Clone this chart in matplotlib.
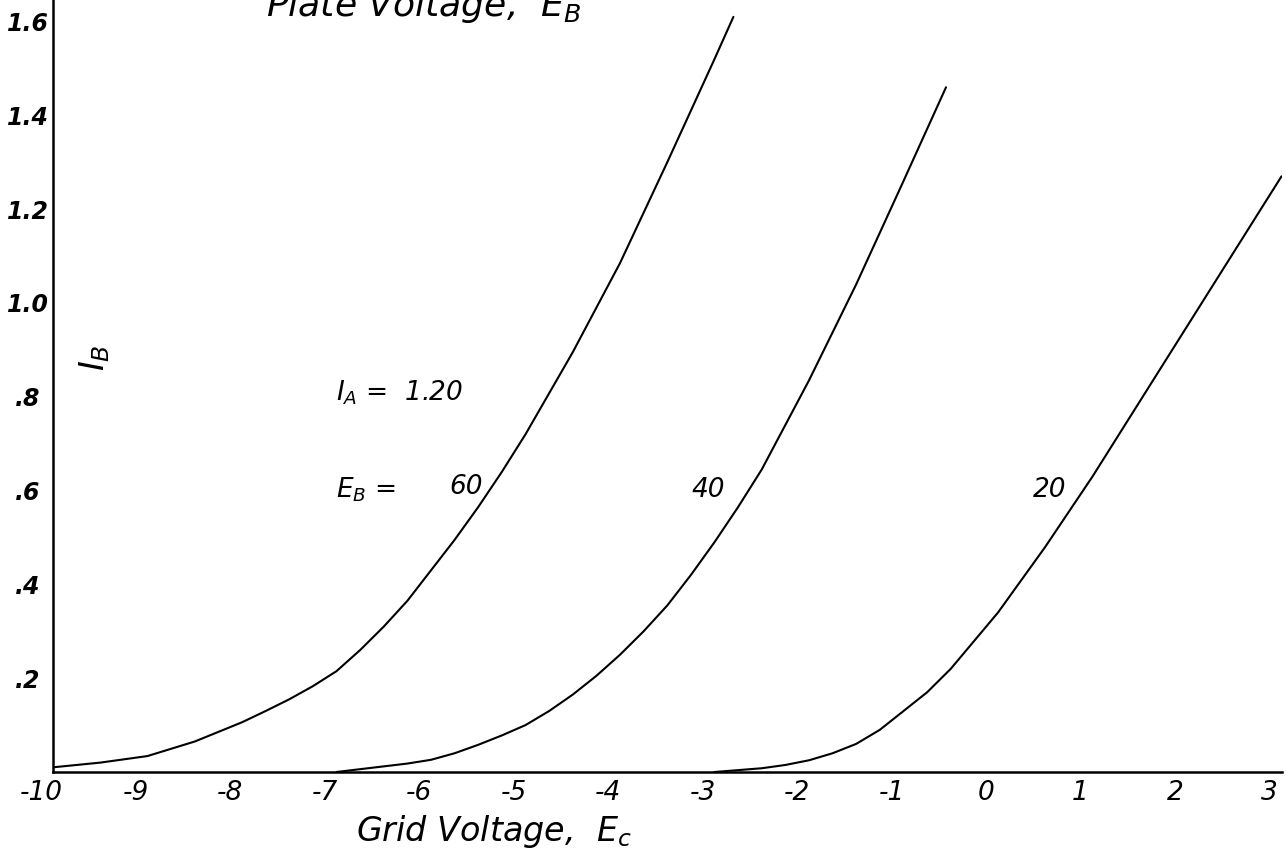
import numpy as np
import matplotlib
matplotlib.use("Agg")
import matplotlib.pyplot as plt
import matplotlib.transforms as mtransforms

# plate current I_B vs grid voltage E_c (I_A = 1.20)
ec_60 = [-10, -9.5, -9, -8.5, -8, -7.75, -7.5, -7.25, -7, -6.75, -6.5, -6.25, -6, -5.75, -5.5,
         -5.25, -5, -4.5, -4, -3.5, -3, -2.8]
ib_60 = [0.01, 0.02, 0.034, 0.065, 0.106, 0.13, 0.155, 0.183, 0.215, 0.26, 0.31, 0.365, 0.43,
         0.495, 0.565, 0.64, 0.72, 0.895, 1.085, 1.30, 1.52, 1.61]

ec_40 = [-7, -6.5, -6.25, -6, -5.75, -5.5, -5.25, -5, -4.75, -4.5, -4.25, -4, -3.75, -3.5,
         -3.25, -3, -2.75, -2.5, -2, -1.5, -1, -0.55]
ib_40 = [0.0, 0.012, 0.018, 0.026, 0.04, 0.058, 0.078, 0.10, 0.13, 0.165, 0.205, 0.25, 0.30,
         0.355, 0.42, 0.49, 0.565, 0.645, 0.835, 1.04, 1.26, 1.46]

ec_20 = [-3, -2.5, -2.25, -2, -1.75, -1.5, -1.25, -1, -0.75, -0.5, -0.25, 0, 0.5, 1, 1.5,
         2, 2.5, 3]
ib_20 = [0.0, 0.008, 0.015, 0.025, 0.04, 0.06, 0.09, 0.13, 0.17, 0.22, 0.28, 0.34, 0.48,
         0.63, 0.79, 0.95, 1.11, 1.27]

x_ticks = [-10, -9, -8, -7, -6, -5, -4, -3, -2, -1, 0, 1, 2, 3]
x_labels = ["-10", "-9", "-8", "-7", "-6", "-5", "-4", "-3", "-2", "-1", "0", "1", "2", "3"]
y_ticks = [0.2, 0.4, 0.6, 0.8, 1.0, 1.2, 1.4, 1.6]
y_labels = [".2", ".4", ".6", ".8", "1.0", "1.2", "1.4", "1.6"]

W, H = 1286, 867
fig = plt.figure(figsize=(W / 100, H / 100), dpi=100)
ax = fig.add_axes([53 / W, 95 / H, (1281.5 - 53) / W, 772 / H])

for ec, ib in ((ec_60, ib_60), (ec_40, ib_40), (ec_20, ib_20)):
    ax.plot(ec, ib, color="black", lw=1.5, solid_capstyle="round", solid_joinstyle="round")

ax.set_xlim(-10, 3)
ax.set_ylim(0, 1.646)

for side in ("top", "right"):
    ax.spines[side].set_visible(False)
for side in ("left", "bottom"):
    ax.spines[side].set_linewidth(1.8)

ax.set_xticks(x_ticks)
ax.set_xticklabels(x_labels, fontsize=19, style="italic")
ax.set_yticks(y_ticks)
ax.set_yticklabels(y_labels, fontsize=17, style="italic", fontweight="bold", ha="center")
ax.tick_params(axis="x", length=0, pad=6)
ax.tick_params(axis="y", length=0, pad=18)

# hand lettering sits a little left of each grid line
shift = mtransforms.ScaledTranslation(-12 / 100, 0, fig.dpi_scale_trans)
for lab in ax.get_xticklabels():
    lab.set_transform(lab.get_transform() + shift)

ax.set_xlabel("Grid Voltage,  $E_c$", fontsize=24, style="italic")
ax.xaxis.set_label_coords((494 - 53) / (1281.5 - 53), -(813 - 772) / 772)

# labels written on the sheet
ax.text(-9.56, (772 - 358) / 469, "$I_B$", fontsize=24, rotation=90, ha="center", va="center")
ax.text(-7.0, (772 - 393) / 469, "$I_A$ =  1.20", fontsize=19, style="italic", ha="left", va="center")
ax.text(-7.0, (772 - 490) / 469, "$E_B$ =", fontsize=19, style="italic", ha="left", va="center")
ax.text(-5.63, (772 - 487) / 469, "60", fontsize=19, style="italic", ha="center", va="center")
ax.text(-3.07, (772 - 490) / 469, "40", fontsize=19, style="italic", ha="center", va="center")
ax.text(0.55, (772 - 490) / 469, "20", fontsize=19, style="italic", ha="center", va="center")

# title cut off by the top edge of the scan
fig.text(424 / W, 1 - 16 / H, "Plate Voltage,  $E_B$", fontsize=26, style="italic",
         ha="center", va="baseline")

plt.savefig("out.png", dpi=100)
